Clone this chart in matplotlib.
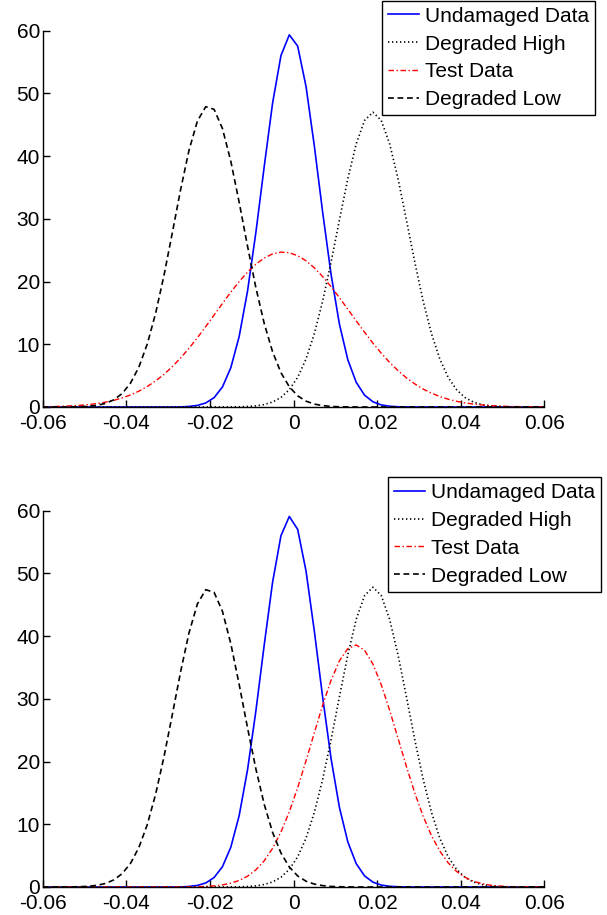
import numpy as np
import matplotlib
matplotlib.use('Agg')
import matplotlib.pyplot as plt

plt.rcParams['font.family'] = ['Liberation Sans', 'DejaVu Sans']

# sample positions: the two ends plus every odd thousandth in between
X = np.round(np.r_[-0.06, np.arange(-0.059, 0.0591, 0.002), 0.06], 3)

LABELS = ['Undamaged Data', 'Degraded High', 'Test Data', 'Degraded Low']
XTICKS = [-0.06, -0.04, -0.02, 0, 0.02, 0.04, 0.06]
XTICK_LABELS = ['-0.06', '-0.04', '-0.02', '0', '0.02', '0.04', '0.06']
YTICKS = [0, 10, 20, 30, 40, 50, 60]

# ---- top panel ----
undamaged_top = [0,
                 0, 0, 0, 0, 0, 0, 0, 0, 0, 0,
                 0, 0, 0, 0, 0, 0, 0.01, 0.09, 0.25, 0.64,
                 1.49, 3.19, 6.26, 11.24, 18.47, 27.83, 38.37, 48.46, 56.04, 59.34,
                 57.54, 51.09, 41.55, 30.93, 21.09, 13.16, 7.53, 3.94, 1.89, 0.83,
                 0.33, 0.12, 0.04, 0.01, 0, 0, 0, 0, 0, 0,
                 0, 0, 0, 0, 0, 0, 0, 0, 0, 0,
                 0]
high_top = [0,
            0, 0, 0, 0, 0, 0, 0, 0, 0, 0,
            0, 0, 0, 0, 0, 0, 0, 0, 0, 0,
            0, 0, 0.01, 0.03, 0.08, 0.18, 0.39, 0.79, 1.52, 2.77,
            4.73, 7.66, 11.72, 16.94, 23.14, 29.86, 36.42, 41.96, 45.69, 47.0,
            45.69, 41.96, 36.42, 29.86, 23.14, 16.94, 11.72, 7.66, 4.73, 2.77,
            1.52, 0.79, 0.39, 0.18, 0.08, 0.03, 0.01, 0.01, 0, 0,
            0]
test_top = [0.04,
            0.05, 0.08, 0.13, 0.19, 0.27, 0.39, 0.55, 0.77, 1.06, 1.44,
            1.92, 2.52, 3.26, 4.15, 5.20, 6.43, 7.82, 9.36, 11.04, 12.82,
            14.66, 16.50, 18.31, 19.99, 21.51, 22.78, 23.76, 24.41, 24.69, 24.59,
            24.13, 23.31, 22.18, 20.78, 19.17, 17.42, 15.58, 13.73, 11.92, 10.18,
            8.57, 7.10, 5.80, 4.66, 3.69, 2.87, 2.21, 1.67, 1.24, 0.91,
            0.66, 0.47, 0.33, 0.23, 0.15, 0.10, 0.07, 0.04, 0.03, 0.02,
            0.02]
low_top = [0,
           0, 0, 0.01, 0.02, 0.05, 0.12, 0.27, 0.57, 1.14, 2.14,
           3.80, 6.35, 10.01, 14.90, 20.93, 27.74, 34.69, 40.93, 45.58, 47.88,
           47.46, 44.40, 39.19, 32.64, 25.65, 19.02, 13.31, 8.79, 5.47, 3.22,
           1.78, 0.93, 0.46, 0.22, 0.09, 0.04, 0.02, 0, 0, 0,
           0, 0, 0, 0, 0, 0, 0, 0, 0, 0,
           0, 0, 0, 0, 0, 0, 0, 0, 0, 0,
           0]

# ---- bottom panel ----
undamaged_bot = [0,
                 0, 0, 0, 0, 0, 0, 0, 0, 0, 0,
                 0, 0, 0, 0, 0, 0, 0.01, 0.09, 0.25, 0.64,
                 1.51, 3.23, 6.34, 11.38, 18.67, 28.07, 38.62, 48.61, 56.02, 59.08,
                 57.02, 50.37, 40.72, 30.14, 20.41, 12.65, 7.18, 3.73, 1.77, 0.77,
                 0.31, 0.11, 0.04, 0.01, 0, 0, 0, 0, 0, 0,
                 0, 0, 0, 0, 0, 0, 0, 0, 0, 0,
                 0]
high_bot = [0,
            0, 0, 0, 0, 0, 0, 0, 0, 0, 0,
            0, 0, 0, 0, 0, 0, 0, 0, 0, 0,
            0, 0, 0.01, 0.03, 0.08, 0.18, 0.40, 0.80, 1.55, 2.82,
            4.81, 7.79, 11.92, 17.23, 23.53, 30.37, 37.04, 42.67, 46.47, 47.8,
            46.47, 42.67, 37.04, 30.37, 23.53, 17.23, 11.92, 7.79, 4.81, 2.82,
            1.55, 0.80, 0.40, 0.18, 0.08, 0.03, 0.01, 0.01, 0, 0,
            0]
test_bot = [0,
            0, 0, 0, 0, 0, 0, 0, 0, 0, 0,
            0, 0, 0, 0, 0, 0.01, 0.01, 0.02, 0.05, 0.10,
            0.18, 0.34, 0.61, 1.04, 1.72, 2.73, 4.18, 6.17, 8.77, 12.01,
            15.84, 20.13, 24.63, 29.04, 32.98, 36.08, 38.02, 38.59, 37.74, 35.54,
            32.25, 28.18, 23.73, 19.24, 15.03, 11.31, 8.20, 5.73, 3.85, 2.49,
            1.56, 0.94, 0.54, 0.30, 0.16, 0.08, 0.04, 0.02, 0.01, 0,
            0]
low_bot = [0,
           0, 0, 0.01, 0.02, 0.05, 0.12, 0.27, 0.56, 1.13, 2.12,
           3.76, 6.29, 9.91, 14.75, 20.72, 27.46, 34.34, 40.52, 45.12, 47.40,
           46.99, 43.96, 38.80, 32.31, 25.39, 18.83, 13.18, 8.70, 5.42, 3.19,
           1.76, 0.92, 0.46, 0.22, 0.09, 0.04, 0.02, 0, 0, 0,
           0, 0, 0, 0, 0, 0, 0, 0, 0, 0,
           0, 0, 0, 0, 0, 0, 0, 0, 0, 0,
           0]

W, H = 607, 915
fig = plt.figure(figsize=(W / 100, H / 100), dpi=100)


def panel(rect, curves, legend_anchor):
    ax = fig.add_axes(rect)
    ax.plot(X, curves[0], color=(0, 0, 1), lw=1.2, ls='-')
    ax.plot(X, curves[1], color='k', lw=1.2, ls=(0, (0.8, 1.6)))
    ax.plot(X, curves[2], color=(1, 0, 0), lw=1.0, ls=(0, (4, 1.8, 1, 1.8)))
    ax.plot(X, curves[3], color='k', lw=1.2, ls=(0, (3.5, 2.2)))
    ax.set_xlim(-0.06, 0.06)
    ax.set_ylim(0, 60)
    ax.set_xticks(XTICKS)
    ax.set_xticklabels(XTICK_LABELS)
    ax.set_yticks(YTICKS)
    for s in ('top', 'right'):
        ax.spines[s].set_visible(False)
    for s in ('left', 'bottom'):
        ax.spines[s].set_linewidth(1.0)
    ax.tick_params(direction='in', length=5, width=1.0, labelsize=15)
    ax.tick_params(axis='x', pad=5)
    ax.tick_params(axis='y', pad=2)
    ax.legend(LABELS, loc='upper right', bbox_to_anchor=legend_anchor,
              bbox_transform=fig.transFigure, borderaxespad=0, fontsize=15,
              fancybox=False, framealpha=1, edgecolor='k', handlelength=1.47,
              handletextpad=0.27, labelspacing=0.42, borderpad=0.3)
    ax.get_legend().get_frame().set_linewidth(1.0)
    return ax


panel([42.7 / W, 1 - 407 / H, 501.6 / W, 376.3 / H],
      [undamaged_top, high_top, test_top, low_top], (595 / W, 1 - 0.5 / H))
panel([42.7 / W, 1 - 887 / H, 501.6 / W, 376.3 / H],
      [undamaged_bot, high_bot, test_bot, low_bot], (601 / W, 1 - 477 / H))

fig.savefig('out.png', dpi=100)
